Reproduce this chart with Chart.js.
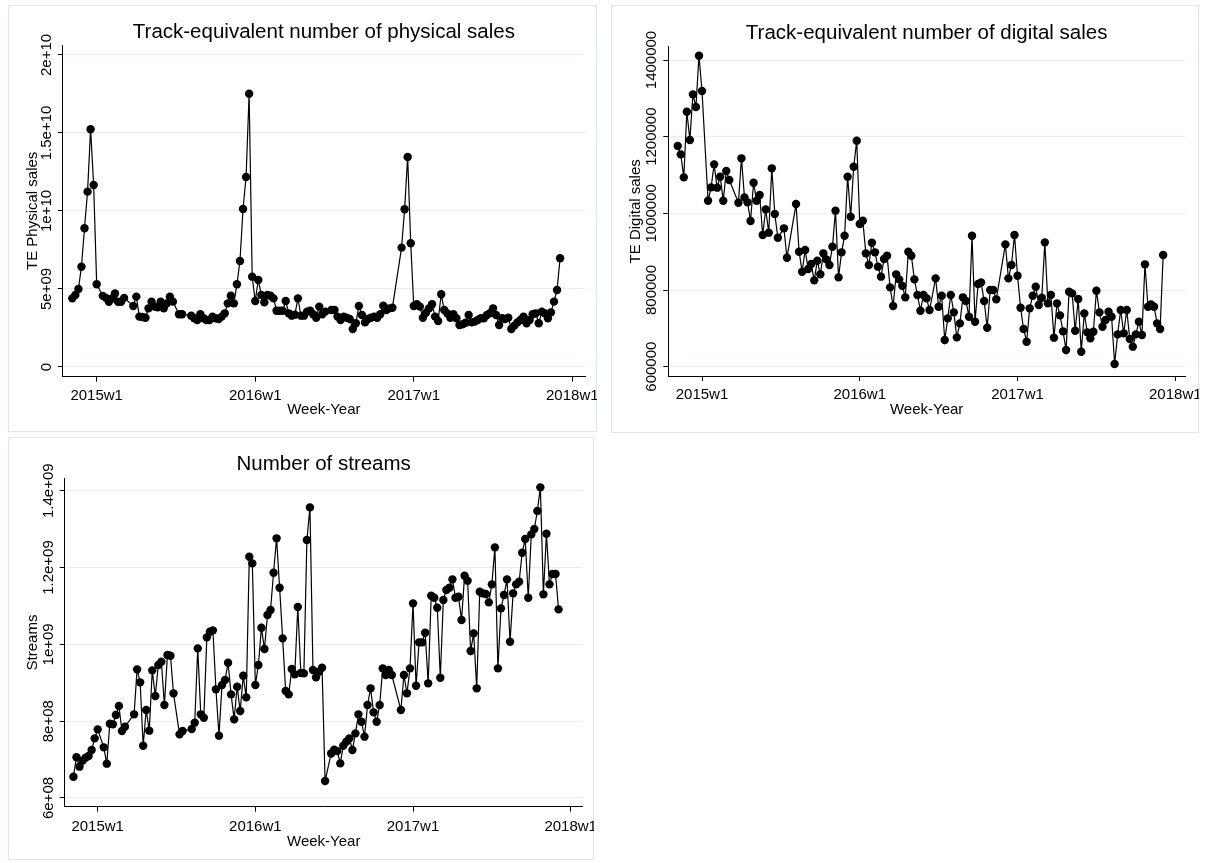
<!DOCTYPE html>
<html>
<head>
<meta charset="utf-8">
<script src="https://cdn.jsdelivr.net/npm/chart.js@4.4.1/dist/chart.umd.min.js"></script>
<style>
  html, body { margin: 0; padding: 0; background: #ffffff; }
  body { width: 1206px; height: 863px; position: relative; overflow: hidden; }
  .box { position: absolute; box-sizing: border-box; border: 1px solid #dde6ea; }
  canvas { position: absolute; }
</style>
</head>
<body>
<div class="box" style="left:8px;top:5px;width:589px;height:427px"></div>
<div class="box" style="left:611px;top:5px;width:588px;height:428px"></div>
<div class="box" style="left:8px;top:437px;width:586px;height:423px"></div>
<canvas id="c1" width="589" height="427" style="left:8px;top:5px"></canvas>
<canvas id="c2" width="588" height="428" style="left:611px;top:5px"></canvas>
<canvas id="c3" width="586" height="423" style="left:8px;top:437px"></canvas>
<script>
// ---------- DATA (weeks counted from 2015w1 = 0) ----------
const weeks = [
  -8,-7,-6,-5,-4,-3,-2,-1,0,
  2,3,4,5,6,7,8,9,
  12,13,14,15,16,17,18,19,20,21,22,23,24,25,
  27,28,
  31,32,33,34,35,36,37,38,39,40,41,42,43,44,45,46,47,48,49,50,
  51,52,53,54,55,56,57,58,59,60,61,62,63,64,65,66,67,68,69,70,
  71,72,73,74,75,
  77,78,79,80,81,82,83,84,85,86,87,88,89,90,91,92,93,94,95,96,97,
  100,101,102,103,104,105,106,107,108,109,110,111,112,113,114,115,116,117,118,119,
  120,121,122,123,124,125,126,127,128,129,130,131,132,133,134,135,136,137,138,139,
  140,141,142,143,144,145,146,147,148,149,150,151,152
];

const physicalSales = [
  4.40e9,4.62e9,5.00e9,6.43e9,8.89e9,11.24e9,15.24e9,11.67e9,5.30e9,
  4.56e9,4.43e9,4.18e9,4.39e9,4.71e9,4.18e9,4.18e9,4.43e9,
  3.91e9,4.51e9,3.23e9,3.20e9,3.16e9,3.76e9,4.19e9,3.87e9,3.82e9,4.19e9,3.76e9,4.08e9,4.51e9,4.19e9,
  3.38e9,3.38e9,
  3.29e9,3.12e9,3.01e9,3.38e9,3.12e9,3.01e9,3.01e9,3.23e9,3.12e9,3.08e9,
  3.23e9,3.44e9,4.08e9,4.57e9,4.08e9,5.30e9,6.79e9,10.13e9,12.18e9,17.52e9,
  5.79e9,4.23e9,5.58e9,4.62e9,4.15e9,4.62e9,4.57e9,4.40e9,3.61e9,3.61e9,
  3.61e9,4.23e9,3.44e9,3.29e9,3.35e9,4.40e9,3.29e9,3.29e9,3.55e9,3.61e9,
  3.38e9,3.16e9,3.87e9,3.38e9,3.55e9,
  3.65e9,3.65e9,3.23e9,3.01e9,3.23e9,3.16e9,3.08e9,2.44e9,2.80e9,3.91e9,
  3.33e9,2.86e9,3.08e9,3.16e9,3.23e9,3.16e9,3.38e9,3.93e9,3.65e9,3.76e9,3.80e9,
  7.65e9,10.11e9,13.46e9,7.93e9,3.91e9,4.02e9,3.87e9,3.16e9,3.48e9,3.76e9,
  4.02e9,3.23e9,2.95e9,4.66e9,3.65e9,3.44e9,3.16e9,3.38e9,3.12e9,2.69e9,
  2.74e9,2.84e9,3.33e9,2.86e9,2.91e9,3.01e9,3.12e9,3.12e9,3.33e9,3.45e9,
  3.76e9,3.33e9,2.69e9,3.12e9,3.08e9,3.16e9,2.44e9,2.65e9,2.86e9,3.01e9,
  3.23e9,2.80e9,3.01e9,3.38e9,3.44e9,2.80e9,3.55e9,3.44e9,3.12e9,3.50e9,
  4.19e9,4.94e9,6.97e9
];

const digitalSales = [
  1175700,1153900,1093900,1265200,1191300,1310400,1277400,1411300,1319100,
  1033000,1067800,1127800,1067000,1095700,1033000,1110400,1087000,
  1027800,1143500,1041700,1028700,980000,1080000,1033000,1047800,943500,1010400,949600,1117400,998300,936500,
  960900,884300,
  1024300,900000,847800,904300,854800,867800,825200,876500,840900,895700,
  880000,865200,913000,1007000,833000,898300,941700,1095700,991300,1121700,
  1189600,972200,980900,895700,865200,923500,898300,860900,834800,880900,
  889600,806900,758300,840900,827800,811300,780900,900000,889600,827800,
  787000,746100,787000,778300,747800,
  830400,756500,785200,669600,726100,787000,741700,676500,713000,780900,
  771300,730400,941700,717400,815700,820000,771300,701700,800000,800000,775700,
  919100,830400,865200,943500,837400,753900,698300,665200,752200,785200,
  808700,760900,780000,924300,765200,787000,675700,765200,733900,692200,
  643500,795700,791300,693900,776500,639100,739100,689600,673900,691300,
  798300,741700,704300,721700,743500,730400,607000,684300,747800,687000,
  747800,672200,652200,684300,717400,682600,867000,756500,762600,756500,
  713000,698300,891300
];

const streams = [
  6.555e8,7.059e8,6.816e8,6.972e8,7.050e8,7.093e8,7.249e8,7.553e8,7.787e8,
  7.319e8,6.894e8,7.935e8,7.918e8,8.161e8,8.395e8,7.744e8,7.857e8,
  8.178e8,9.349e8,9.011e8,7.362e8,8.291e8,7.753e8,9.323e8,8.655e8,9.462e8,9.549e8,8.421e8,9.722e8,9.705e8,8.725e8,
  7.657e8,7.744e8,
  7.796e8,7.961e8,9.896e8,8.178e8,8.091e8,10.182e8,10.330e8,10.364e8,8.829e8,7.623e8,
  8.942e8,9.072e8,9.523e8,8.698e8,8.048e8,8.898e8,8.265e8,9.184e8,8.620e8,12.282e8,
  12.108e8,8.942e8,9.462e8,10.434e8,9.879e8,10.764e8,10.894e8,11.866e8,12.760e8,11.475e8,
  10.156e8,8.785e8,8.698e8,9.358e8,9.219e8,10.972e8,9.254e8,9.245e8,12.716e8,13.566e8,
  9.332e8,9.141e8,9.289e8,9.393e8,6.443e8,
  7.16e8,7.26e8,7.22e8,6.902e8,7.362e8,7.466e8,7.553e8,7.249e8,7.683e8,8.178e8,
  7.987e8,7.597e8,8.421e8,8.855e8,8.230e8,7.987e8,8.421e8,9.375e8,9.202e8,9.332e8,9.202e8,
  8.291e8,9.202e8,8.725e8,9.375e8,11.067e8,8.924e8,10.052e8,10.052e8,10.304e8,8.985e8,
  11.267e8,11.215e8,10.954e8,9.132e8,11.154e8,11.414e8,11.475e8,11.692e8,11.215e8,11.241e8,
  10.633e8,11.787e8,11.657e8,9.826e8,10.286e8,8.855e8,11.371e8,11.328e8,11.310e8,11.093e8,
  11.562e8,12.525e8,9.375e8,10.937e8,11.284e8,11.692e8,10.069e8,11.328e8,11.562e8,11.631e8,
  12.386e8,12.742e8,11.215e8,12.863e8,13.002e8,13.471e8,14.087e8,11.302e8,12.881e8,11.562e8,
  11.831e8,11.831e8,10.911e8
];

const xTickWeeks = [0, 52, 104, 156];
const xTickLabels = ['2015w1', '2016w1', '2017w1', '2018w1'];

const physTicks = [0, 5e9, 1e10, 1.5e10, 2e10];
const physTickLabels = ['0', '5e+09', '1e+10', '1.5e+10', '2e+10'];
const digiTicks = [600000, 800000, 1000000, 1200000, 1400000];
const digiTickLabels = ['600000', '800000', '1000000', '1200000', '1400000'];
const streamTicks = [6e8, 8e8, 1e9, 1.2e9, 1.4e9];
const streamTickLabels = ['6e+08', '8e+08', '1e+09', '1.2e+09', '1.4e+09'];

// ---------- CHART BUILDER ----------
const FONT = '"Liberation Sans", Arial, Helvetica, sans-serif';
const TICK_SIZE = 15;
const measurer = document.createElement('canvas').getContext('2d');
measurer.font = TICK_SIZE + 'px ' + FONT;

function makeChart(id, cfg) {
  const widest = Math.max(...cfg.yLabels.map(s => measurer.measureText(s).width));
  const tickLen = 5;
  const yTickPad = cfg.yWidth - tickLen - widest / 2 - cfg.yLabelX;
  return new Chart(document.getElementById(id), {
    type: 'line',
    data: {
      datasets: [{
        data: weeks.map((w, i) => ({ x: w, y: cfg.values[i] })),
        borderColor: '#000000',
        borderWidth: 1.2,
        pointRadius: 4.2,
        pointHoverRadius: 4.2,
        pointBackgroundColor: '#000000',
        pointBorderWidth: 0,
        tension: 0,
        fill: false
      }]
    },
    options: {
      responsive: false,
      animation: false,
      events: [],
      layout: { padding: { left: 0, right: cfg.padRight, top: 0, bottom: 0 } },
      plugins: {
        legend: { display: false },
        tooltip: { enabled: false },
        title: {
          display: true,
          text: cfg.title,
          fullSize: false,
          color: '#000000',
          font: { family: FONT, size: 20.5, weight: 'normal' },
          padding: { top: cfg.titleTop, bottom: cfg.titleBottom }
        }
      },
      scales: {
        x: {
          type: 'linear',
          min: cfg.xMin,
          max: cfg.xMax,
          afterBuildTicks: ax => { ax.ticks = xTickWeeks.map(v => ({ value: v })); },
          afterFit: s => { s.height = cfg.xHeight; s.paddingLeft = 0; s.paddingRight = 0; },
          ticks: {
            autoSkip: false, maxRotation: 0, minRotation: 0,
            padding: cfg.xTickPad,
            font: { family: FONT, size: TICK_SIZE },
            color: '#000000',
            callback: v => xTickLabels[xTickWeeks.indexOf(v)]
          },
          grid: { drawOnChartArea: false, drawTicks: true, tickLength: tickLen, tickColor: '#000000', tickWidth: 1 },
          border: { display: true, color: '#000000', width: 1 },
          title: {
            display: true, text: 'Week-Year', color: '#000000',
            font: { family: FONT, size: TICK_SIZE },
            padding: { top: 0, bottom: cfg.xTitlePad }
          }
        },
        y: {
          type: 'linear',
          min: cfg.yMin,
          max: cfg.yMax,
          afterBuildTicks: ax => { ax.ticks = cfg.yTicks.map(v => ({ value: v })); },
          afterFit: s => { s.width = cfg.yWidth; s.paddingTop = 0; s.paddingBottom = 0; },
          ticks: {
            autoSkip: false, minRotation: 90, maxRotation: 90,
            crossAlign: 'center',
            padding: yTickPad,
            font: { family: FONT, size: TICK_SIZE },
            color: '#000000',
            callback: v => cfg.yLabels[cfg.yTicks.indexOf(v)]
          },
          grid: { color: '#e5eef0', lineWidth: 1, drawTicks: true, tickLength: tickLen, tickColor: '#000000', tickWidth: 1 },
          border: { display: true, color: '#000000', width: 1 },
          title: {
            display: true, text: cfg.yTitle, color: '#000000',
            font: { family: FONT, size: TICK_SIZE },
            padding: { top: cfg.yTitlePad, bottom: 0 }
          }
        }
      }
    }
  });
}

makeChart('c1', {
  title: 'Track-equivalent number of physical sales',
  yTitle: 'TE Physical sales',
  values: physicalSales,
  yTicks: physTicks, yLabels: physTickLabels,
  xMin: -11.15, xMax: 160.17, yMin: -0.622e9, yMax: 20.64e9,
  yWidth: 54.7, padRight: 12, xHeight: 55.3,
  titleTop: 15.4, titleBottom: 0,
  xTickPad: 5.0, xTitlePad: 13.0,
  yLabelX: 38.5, yTitlePad: 15.5
});

makeChart('c2', {
  title: 'Track-equivalent number of digital sales',
  yTitle: 'TE Digital sales',
  values: digitalSales,
  yTicks: digiTicks, yLabels: digiTickLabels,
  xMin: -11.11, xMax: 159.2, yMin: 575700, yMax: 1434700,
  yWidth: 57.3, padRight: 14, xHeight: 57,
  titleTop: 15.6, titleBottom: 1.5,
  xTickPad: 5.0, xTitlePad: 14.0,
  yLabelX: 41, yTitlePad: 16.0
});

makeChart('c3', {
  title: 'Number of streams',
  yTitle: 'Streams',
  values: streams,
  yTicks: streamTicks, yLabels: streamTickLabels,
  xMin: -10.88, xMax: 159.96, yMin: 5.7735e8, yMax: 1.4323e9,
  yWidth: 56.7, padRight: 11.3, xHeight: 53.3,
  titleTop: 15.3, titleBottom: 1.4,
  xTickPad: 6.0, xTitlePad: 9.5,
  yLabelX: 41, yTitlePad: 15.5
});
</script>
</body>
</html>
